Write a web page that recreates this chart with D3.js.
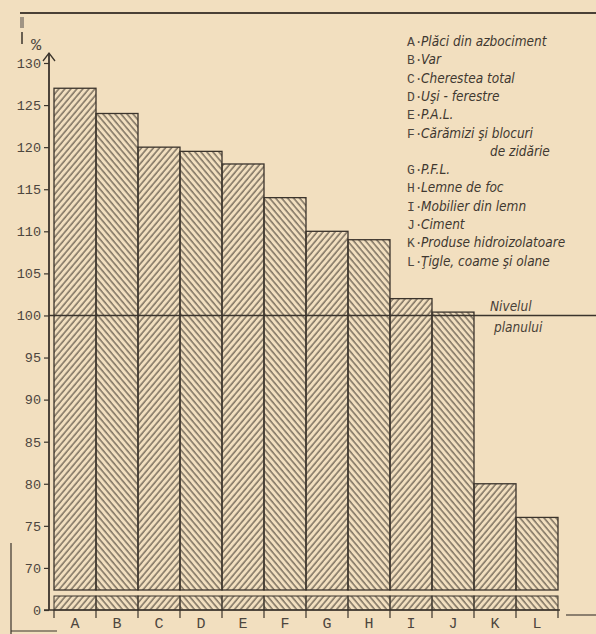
<!DOCTYPE html>
<html>
<head>
<meta charset="utf-8">
<script src="https://cdn.jsdelivr.net/npm/d3@7"></script>
<style>
  html, body { margin: 0; padding: 0; background: #f2dfbf; }
  svg { display: block; }
</style>
</head>
<body>
<script>
const width = 596;
const height = 634;

// data
const categories = ["A", "B", "C", "D", "E", "F", "G", "H", "I", "J", "K", "L"];
const values = [127, 124, 120, 119.5, 118, 114, 110, 109, 102, 100.4, 80, 76];
const legendLabels = [
  "Plăci din azbociment",
  "Var",
  "Cherestea total",
  "Uşi - ferestre",
  "P.A.L.",
  "Cărămizi şi blocuri",
  "P.F.L.",
  "Lemne de foc",
  "Mobilier din lemn",
  "Ciment",
  "Produse hidroizolatoare",
  "Ţigle, coame şi olane"
];
const yTickValues = [65, 70, 75, 80, 85, 90, 95, 100, 105, 110, 115, 120, 125, 130];
const planLevel = 100;

const ink = "#3b342c";
const mono = "'Liberation Mono', 'DejaVu Sans Mono', monospace";
const narrow = "'Liberation Sans Narrow', 'DejaVu Sans Condensed', 'Roboto Condensed', 'Liberation Sans', sans-serif";

const svg = d3.select("body")
  .append("svg")
  .attr("width", width)
  .attr("height", height);

// hatch patterns, alternating direction bar by bar
const defs = svg.append("defs");
const makeHatch = (id, angle) => {
  const p = defs.append("pattern")
    .attr("id", id)
    .attr("patternUnits", "userSpaceOnUse")
    .attr("width", 4.6)
    .attr("height", 10)
    .attr("patternTransform", `rotate(${angle})`);
  p.append("line")
    .attr("x1", 1).attr("y1", 0)
    .attr("x2", 1).attr("y2", 10)
    .attr("stroke", "#3f372e")
    .attr("stroke-width", 1);
};
makeHatch("hatch-a", 40);
makeHatch("hatch-b", -40);

// axis break: the scale runs 65..130, 65 is drawn as "0"
const y = d3.scaleLinear().domain([65, 130]).range([610, 63]);
const x = d3.scaleBand().domain(categories).range([54, 558]).padding(0);
const breakTop = 590;
const breakBottom = 596;
const axisX = 49;

// top frame line
svg.append("line")
  .attr("x1", 20).attr("x2", width).attr("y1", 13).attr("y2", 13)
  .attr("stroke", "#4a4036").attr("stroke-width", 2);
svg.append("rect")
  .attr("x", 20).attr("y", 17).attr("width", 4).attr("height", 11)
  .attr("fill", "#a09484");

// lower-left frame bits
svg.append("path")
  .attr("d", "M11,543 L11,634 M11,631 L57,631")
  .attr("fill", "none").attr("stroke", ink).attr("stroke-width", 1.2);

// bars, upper part
const bars = svg.append("g");
bars.selectAll("rect.upper")
  .data(categories)
  .join("rect")
  .attr("class", "upper")
  .attr("x", d => x(d))
  .attr("y", (d, i) => y(values[i]))
  .attr("width", x.bandwidth())
  .attr("height", (d, i) => breakTop - y(values[i]))
  .attr("fill", (d, i) => i % 2 === 0 ? "url(#hatch-a)" : "url(#hatch-b)")
  .attr("stroke", ink)
  .attr("stroke-width", 1.3);

// bars, strip below the break
bars.selectAll("rect.lower")
  .data(categories)
  .join("rect")
  .attr("class", "lower")
  .attr("x", d => x(d))
  .attr("y", breakBottom)
  .attr("width", x.bandwidth())
  .attr("height", y(65) - breakBottom)
  .attr("fill", (d, i) => i % 2 === 0 ? "url(#hatch-a)" : "url(#hatch-b)")
  .attr("stroke", ink)
  .attr("stroke-width", 1);

// plan level line
svg.append("line")
  .attr("x1", axisX).attr("x2", width)
  .attr("y1", y(planLevel)).attr("y2", y(planLevel))
  .attr("stroke", ink).attr("stroke-width", 1.6);

svg.append("text")
  .attr("x", 490).attr("y", y(planLevel) - 4)
  .attr("font-family", narrow).attr("font-style", "italic")
  .attr("font-size", 13.5).attr("fill", "#4a4238")
  .text("Nivelul");
svg.append("text")
  .attr("x", 494).attr("y", y(planLevel) + 17)
  .attr("font-family", narrow).attr("font-style", "italic")
  .attr("font-size", 13.5).attr("fill", "#4a4238")
  .text("planului");

// y axis
const yAxis = svg.append("g")
  .attr("transform", `translate(${axisX},0)`)
  .call(d3.axisLeft(y)
    .tickValues(yTickValues)
    .tickFormat(d => d === 65 ? "0" : d)
    .tickSize(5)
    .tickPadding(3));
yAxis.select(".domain").remove();
yAxis.selectAll(".tick line").attr("stroke", ink).attr("stroke-width", 1.2);
yAxis.selectAll(".tick text")
  .attr("font-family", mono)
  .attr("font-size", 13.5)
  .attr("fill", "#4d463e");

svg.append("line")
  .attr("x1", axisX).attr("x2", axisX).attr("y1", 53).attr("y2", y(65))
  .attr("stroke", ink).attr("stroke-width", 1.8);
svg.append("path")
  .attr("d", `M${axisX - 6},61 L${axisX},53 L${axisX + 6},61`)
  .attr("fill", "none").attr("stroke", ink).attr("stroke-width", 1.3);

// percent sign
svg.append("line")
  .attr("x1", 22).attr("x2", 22).attr("y1", 32).attr("y2", 44)
  .attr("stroke", ink).attr("stroke-width", 1.5);
svg.append("text")
  .attr("x", 36).attr("y", 50)
  .attr("text-anchor", "middle")
  .attr("font-family", mono).attr("font-size", 17)
  .attr("fill", "#4d463e")
  .text("%");

// x axis
const xAxis = svg.append("g")
  .attr("transform", `translate(0,${y(65)})`);
xAxis.append("line")
  .attr("x1", 44).attr("x2", 560)
  .attr("stroke", ink).attr("stroke-width", 1.5);
xAxis.selectAll("line.tick")
  .data(categories.concat(["end"]))
  .join("line")
  .attr("class", "tick")
  .attr("x1", (d, i) => i < categories.length ? x(d) : x.range()[1])
  .attr("x2", (d, i) => i < categories.length ? x(d) : x.range()[1])
  .attr("y1", 0).attr("y2", 8)
  .attr("stroke", ink).attr("stroke-width", 1.2);
xAxis.selectAll("text")
  .data(categories)
  .join("text")
  .attr("x", d => x(d) + x.bandwidth() / 2)
  .attr("y", 18)
  .attr("text-anchor", "middle")
  .attr("font-family", mono)
  .attr("font-size", 15)
  .attr("fill", "#4d463e")
  .text(d => d);
svg.append("line")
  .attr("x1", 566).attr("x2", width).attr("y1", 615).attr("y2", 615)
  .attr("stroke", "#6a6055").attr("stroke-width", 1.5);

// legend
const legendRows = [];
categories.forEach((c, i) => {
  legendRows.push({ key: c, label: legendLabels[i] });
  if (c === "F") legendRows.push({ key: "", label: "de zidărie", indent: true });
});
const legend = svg.append("g").attr("transform", "translate(407,46)");
const row = legend.selectAll("g")
  .data(legendRows)
  .join("g")
  .attr("transform", (d, i) => `translate(0,${i * 18.3})`);
row.append("text")
  .attr("font-family", mono)
  .attr("font-size", 13)
  .attr("fill", "#4d463e")
  .text(d => d.key ? d.key + "·" : "");
row.append("text")
  .attr("x", d => d.indent ? 83 : 14)
  .attr("font-family", narrow)
  .attr("font-style", "italic")
  .attr("font-size", 13.5)
  .attr("fill", "#3f3830")
  .text(d => d.label);
</script>
</body>
</html>
